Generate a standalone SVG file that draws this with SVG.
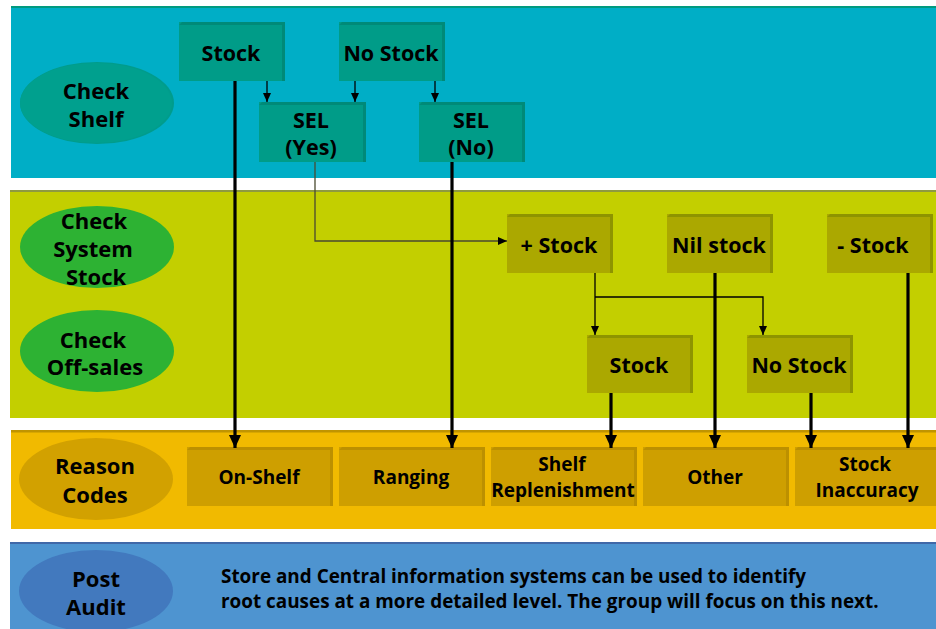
<svg xmlns="http://www.w3.org/2000/svg" width="936" height="629" viewBox="0 0 936 629">
<defs>
<style>
.t{font-family:"Open Sans","Noto Sans","Liberation Sans",sans-serif;font-weight:bold;fill:#000;text-anchor:middle}
.lbl{font-size:21.5px}
.rc{font-size:19px}
.ell{font-size:22px}
.pa{font-size:18.9px;text-anchor:start}
.thin{stroke:#000;stroke-width:1.3;fill:none}
.thick{stroke:#000;stroke-width:3.2;fill:none}
</style>
<marker id="ah" markerWidth="10" markerHeight="10" refX="9" refY="5" orient="auto" markerUnits="userSpaceOnUse"><path d="M0,1 L9,5 L0,9 Z" fill="#000"/></marker>
<marker id="ahb" markerWidth="14" markerHeight="14" refX="13" refY="7" orient="auto" markerUnits="userSpaceOnUse"><path d="M0,1 L13,7 L0,13 Z" fill="#000"/></marker>
</defs>

<!-- bands -->
<rect x="11" y="7" width="925" height="171" fill="#00AEC6"/>
<rect x="11" y="6" width="925" height="2" fill="#009A80"/>
<rect x="10" y="191" width="926" height="227" fill="#C3CF00"/>
<rect x="10" y="190" width="926" height="2" fill="#8E9A40"/>
<rect x="11" y="431" width="925" height="98" fill="#F1BA00"/>
<rect x="11" y="430" width="925" height="2.5" fill="#C09400"/>
<rect x="10" y="543" width="926" height="86" fill="#4E94D0"/>
<rect x="10" y="542" width="926" height="2" fill="#4068A8"/>

<!-- ellipses -->
<g id="check-shelf"><ellipse cx="97" cy="103" rx="77" ry="41" fill="#009C8C"/><ellipse cx="96" cy="103" rx="76" ry="40" fill="#00A08E"/><text class="t ell" x="96" y="99">Check</text><text class="t ell" x="96" y="127">Shelf</text></g>
<g id="check-system-stock"><ellipse cx="97" cy="247" rx="77" ry="41" fill="#2DB233"/><text class="t ell" x="94" y="229">Check</text><text class="t ell" x="93" y="257">System</text><text class="t ell" x="96" y="285">Stock</text></g>
<g id="check-off-sales"><ellipse cx="97" cy="351" rx="77" ry="41" fill="#2DB233"/><text class="t ell" x="93" y="348">Check</text><text class="t ell" x="95" y="375">Off-sales</text></g>
<g id="reason-codes"><ellipse cx="96" cy="479" rx="77" ry="41" fill="#D2A100"/><text class="t ell" x="95" y="474">Reason</text><text class="t ell" x="95" y="503">Codes</text></g>
<g id="post-audit"><ellipse cx="96" cy="591" rx="77" ry="41" fill="#4279BE"/><text class="t ell" x="96" y="587">Post</text><text class="t ell" x="96" y="615">Audit</text></g>

<!-- band 1 boxes -->
<g id="stock1"><rect x="179" y="22" width="106" height="59" fill="#009C88"/><path d="M179,25 L182,22 L285,22 L285,81 L282,81 L282,25 Z" fill="#008A78"/><text class="t lbl" x="231" y="61">Stock</text></g>
<g id="nostock1"><rect x="339" y="22" width="106" height="59" fill="#009C88"/><path d="M339,25 L342,22 L445,22 L445,81 L442,81 L442,25 Z" fill="#008A78"/><text class="t lbl" x="391" y="61">No Stock</text></g>
<g id="sel-yes"><rect x="259" y="102" width="107" height="60" fill="#009C88"/><path d="M259,105 L262,102 L366,102 L366,162 L363,162 L363,105 Z" fill="#008A78"/><text class="t lbl" x="311" y="128">SEL</text><text class="t lbl" x="311" y="155">(Yes)</text></g>
<g id="sel-no"><rect x="419" y="102" width="106" height="60" fill="#009C88"/><path d="M419,105 L422,102 L525,102 L525,162 L522,162 L522,105 Z" fill="#008A78"/><text class="t lbl" x="471" y="128">SEL</text><text class="t lbl" x="471" y="155">(No)</text></g>

<!-- band 2 boxes -->
<g id="plus-stock"><rect x="507" y="214" width="106" height="59" fill="#ABA800"/><path d="M507,217 L510,214 L613,214 L613,273 L610,273 L610,217 Z" fill="#8E9400"/><text class="t lbl" x="559" y="253">+ Stock</text></g>
<g id="nil-stock"><rect x="667" y="214" width="106" height="59" fill="#ABA800"/><path d="M667,217 L670,214 L773,214 L773,273 L770,273 L770,217 Z" fill="#8E9400"/><text class="t lbl" x="719" y="253">Nil stock</text></g>
<g id="minus-stock"><rect x="827" y="214" width="106" height="59" fill="#ABA800"/><path d="M827,217 L830,214 L933,214 L933,273 L930,273 L930,217 Z" fill="#8E9400"/><text class="t lbl" x="873" y="253">- Stock</text></g>
<g id="stock2"><rect x="587" y="335" width="106" height="58" fill="#ABA800"/><path d="M587,338 L590,335 L693,335 L693,393 L690,393 L690,338 Z" fill="#8E9400"/><text class="t lbl" x="639" y="373">Stock</text></g>
<g id="nostock2"><rect x="747" y="335" width="106" height="58" fill="#ABA800"/><path d="M747,338 L750,335 L853,335 L853,393 L850,393 L850,338 Z" fill="#8E9400"/><text class="t lbl" x="799" y="373">No Stock</text></g>

<!-- band 3 boxes -->
<g id="on-shelf"><rect x="187" y="447" width="146" height="59" fill="#CE9F00"/><path d="M187,450 L190,447 L333,447 L333,506 L330,506 L330,450 Z" fill="#BC9000"/><text class="t rc" x="259" y="484">On-Shelf</text></g>
<g id="ranging"><rect x="339" y="447" width="146" height="59" fill="#CE9F00"/><path d="M339,450 L342,447 L485,447 L485,506 L482,506 L482,450 Z" fill="#BC9000"/><text class="t rc" x="411" y="484">Ranging</text></g>
<g id="shelf-replenishment"><rect x="491" y="447" width="146" height="59" fill="#CE9F00"/><path d="M491,450 L494,447 L637,447 L637,506 L634,506 L634,450 Z" fill="#BC9000"/><text class="t rc" x="562" y="471">Shelf</text><text class="t rc" x="563" y="497">Replenishment</text></g>
<g id="other"><rect x="643" y="447" width="146" height="59" fill="#CE9F00"/><path d="M643,450 L646,447 L789,447 L789,506 L786,506 L786,450 Z" fill="#BC9000"/><text class="t rc" x="715" y="484">Other</text></g>
<g id="stock-inaccuracy"><rect x="795" y="447" width="141" height="59" fill="#CE9F00"/><path d="M795,450 L798,447 L936,447 L936,450 Z" fill="#BC9000"/><text class="t rc" x="865" y="471">Stock</text><text class="t rc" x="867" y="497">Inaccuracy</text></g>

<!-- post audit text -->
<g id="post-audit-text"><text class="t pa" x="221" y="583">Store and Central information systems can be used to identify</text><text class="t pa" x="221" y="608">root causes at a more detailed level. The group will focus on this next.</text></g>

<!-- connectors -->
<g id="connectors">
<path class="thin" d="M267,81 V102" marker-end="url(#ah)"/>
<path class="thin" d="M355,81 V102" marker-end="url(#ah)"/>
<path class="thin" d="M435,81 V102" marker-end="url(#ah)"/>
<path d="M315,162 V241 H507" stroke="#4A4A30" stroke-width="1.3" fill="none" marker-end="url(#ah)"/>
<path class="thin" d="M595,273 V335" marker-end="url(#ah)"/>
<path class="thin" d="M595,297 H763 V335" marker-end="url(#ah)"/>
<path class="thick" d="M235,81 V448" marker-end="url(#ahb)"/>
<path class="thick" d="M452,162 V448" marker-end="url(#ahb)"/>
<path class="thick" d="M611,393 V448" marker-end="url(#ahb)"/>
<path class="thick" d="M715,273 V448" marker-end="url(#ahb)"/>
<path class="thick" d="M811,393 V448" marker-end="url(#ahb)"/>
<path class="thick" d="M908,273 V448" marker-end="url(#ahb)"/>
</g>
</svg>
